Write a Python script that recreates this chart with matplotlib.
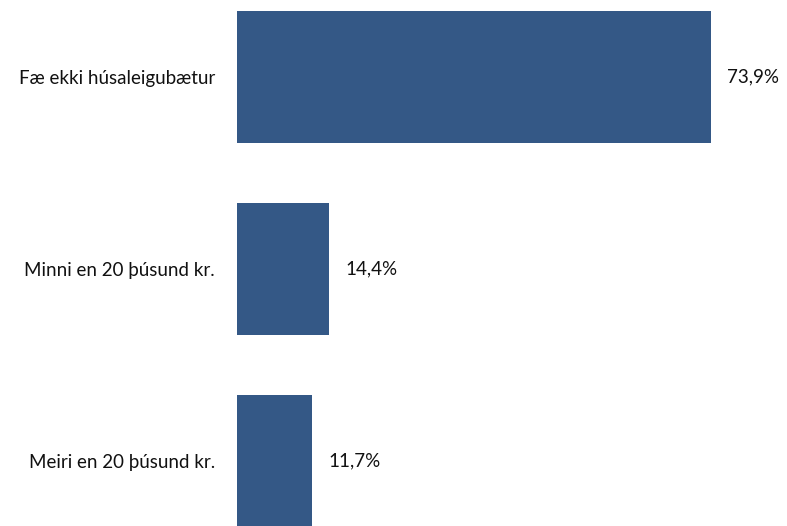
import matplotlib
matplotlib.use("Agg")
import matplotlib.pyplot as plt

categories = ["Fæ ekki húsaleigubætur", "Minni en 20 þúsund kr.", "Meiri en 20 þúsund kr."]
values = [73.9, 14.4, 11.7]
value_labels = ["73,9%", "14,4%", "11,7%"]

BAR_COLOR = "#345886"

plt.rcParams["font.family"] = ["Lato", "DejaVu Sans"]

fig = plt.figure(figsize=(7.87, 5.26), dpi=100)
ax = fig.add_axes([237 / 787, 0, 641.4 / 787, 1])

pos = list(range(len(categories)))
ax.barh(pos, values, height=0.69, color=BAR_COLOR)
ax.set_xlim(0, 100)
ax.set_ylim(2.339, -0.401)

ax.set_yticks(pos)
ax.set_yticklabels(categories, fontsize=13.5, color="#111111")
ax.tick_params(axis="y", length=0, pad=16)
ax.set_xticks([])
for s in ax.spines.values():
    s.set_visible(False)

for p, v, lab in zip(pos, values, value_labels):
    ax.annotate(lab, (v, p), xytext=(11.5, 0), textcoords="offset points",
                va="center", ha="left", fontsize=13.5, color="#111111")

fig.savefig("out.png", dpi=100)
